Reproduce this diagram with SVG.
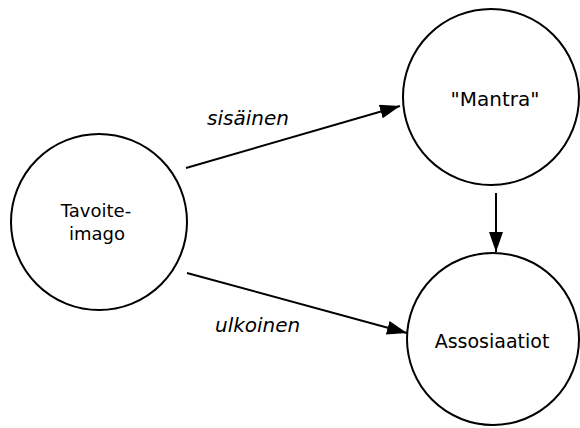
<svg xmlns="http://www.w3.org/2000/svg" width="580" height="428" viewBox="0 0 580 428">
<style>
.node{fill:#fff;stroke:#000;stroke-width:2}
.t{font-family:"DejaVu Sans",sans-serif;text-anchor:middle;fill:#000}
.lbl{font-family:"DejaVu Sans",sans-serif;font-style:italic;font-size:20px;fill:#000}
.edge{stroke:#000;stroke-width:2;fill:none}
</style>
<defs>
<marker id="ah" viewBox="0 0 20 14" refX="20" refY="7" markerWidth="20" markerHeight="14" markerUnits="userSpaceOnUse" orient="auto">
<path d="M0,0 L20,7 L0,14 Z" fill="#000"/>
</marker>
</defs>
<g id="tavoite">
<circle class="node" cx="99" cy="222" r="88"/>
<text class="t" x="96" y="217" font-size="18">Tavoite-</text>
<text class="t" x="97" y="240" font-size="18">imago</text>
</g>
<g id="mantra">
<circle class="node" cx="491" cy="97" r="88"/>
<text class="t" x="495" y="106" font-size="20">"Mantra"</text>
</g>
<g id="assosiaatiot">
<circle class="node" cx="493" cy="339" r="86"/>
<text class="t" x="492" y="348" font-size="19">Assosiaatiot</text>
</g>
<g id="connectors">
<line class="edge" x1="186" y1="168" x2="400" y2="106" marker-end="url(#ah)"/>
<line class="edge" x1="187" y1="273" x2="407" y2="333" marker-end="url(#ah)"/>
<line class="edge" x1="496" y1="193" x2="496" y2="252" marker-end="url(#ah)"/>
<text class="lbl" x="207" y="125">sisäinen</text>
<text class="lbl" x="215" y="332">ulkoinen</text>
</g>
</svg>
